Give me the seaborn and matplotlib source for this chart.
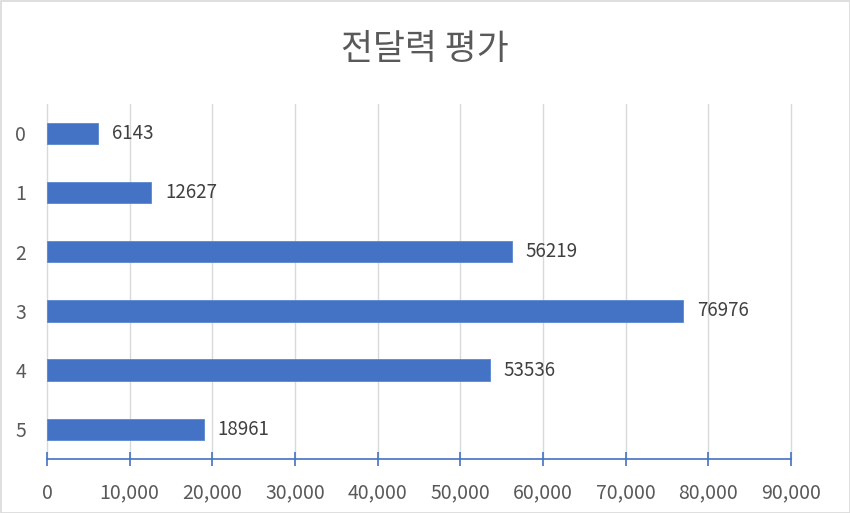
import matplotlib
matplotlib.use("Agg")
import matplotlib.pyplot as plt
import seaborn as sns
import pandas as pd
from matplotlib.ticker import FuncFormatter, MultipleLocator
from matplotlib.patches import Rectangle

categories = ["0", "1", "2", "3", "4", "5"]
values = [6143, 12627, 56219, 76976, 53536, 18961]
title = "전달력 평가"

sns.set_theme(style="white")
plt.rcParams['font.family'] = ['Noto Sans CJK KR', 'DejaVu Sans']

df = pd.DataFrame({"cat": categories, "val": values})

fig = plt.figure(figsize=(8.5, 5.13), dpi=100)
ax = fig.add_axes([47/850, 1-459/513, (791-47)/850, (459-103.6)/513])

sns.barplot(data=df, x="val", y="cat", order=categories, color="#4472C4",
            width=0.36, saturation=1, ax=ax, orient="h", zorder=3,
            edgecolor="#5B86D0", linewidth=0.6)

ax.set_xlim(0, 90000)
ax.xaxis.set_major_locator(MultipleLocator(10000))
ax.xaxis.set_major_formatter(FuncFormatter(lambda v, p: f"{int(v):,}"))
ax.grid(axis="x", color="#D9D9D9", linewidth=1.0, zorder=0)
for gl in ax.get_xgridlines():
    gl.set_clip_on(False)
ax.set_axisbelow(True)
for s in ["top", "right", "left"]:
    ax.spines[s].set_visible(False)
ax.spines["bottom"].set_color("#4472C4")
ax.spines["bottom"].set_linewidth(1.2)
ax.tick_params(axis="x", direction="inout", length=10, width=1.2, color="#4472C4",
               labelsize=14, labelcolor="#595959", pad=12, bottom=True)
ax.tick_params(axis="y", length=0, labelsize=14, labelcolor="#595959", pad=15)
ax.set_xlabel("")
ax.set_ylabel("")

for c in ax.containers:
    ax.bar_label(c, labels=[str(v) for v in values], padding=10, fontsize=13.5, color="#404040")

fig.text(0.5, 1-50/513, title, ha="center", va="center", fontsize=25, color="#595959")

fig.patches.append(Rectangle((0.5/850, 0.5/513), 1-1/850, 1-1/513, transform=fig.transFigure,
                             fill=False, edgecolor="#D9D9D9", linewidth=1.2))

fig.savefig("out.png", dpi=100)
